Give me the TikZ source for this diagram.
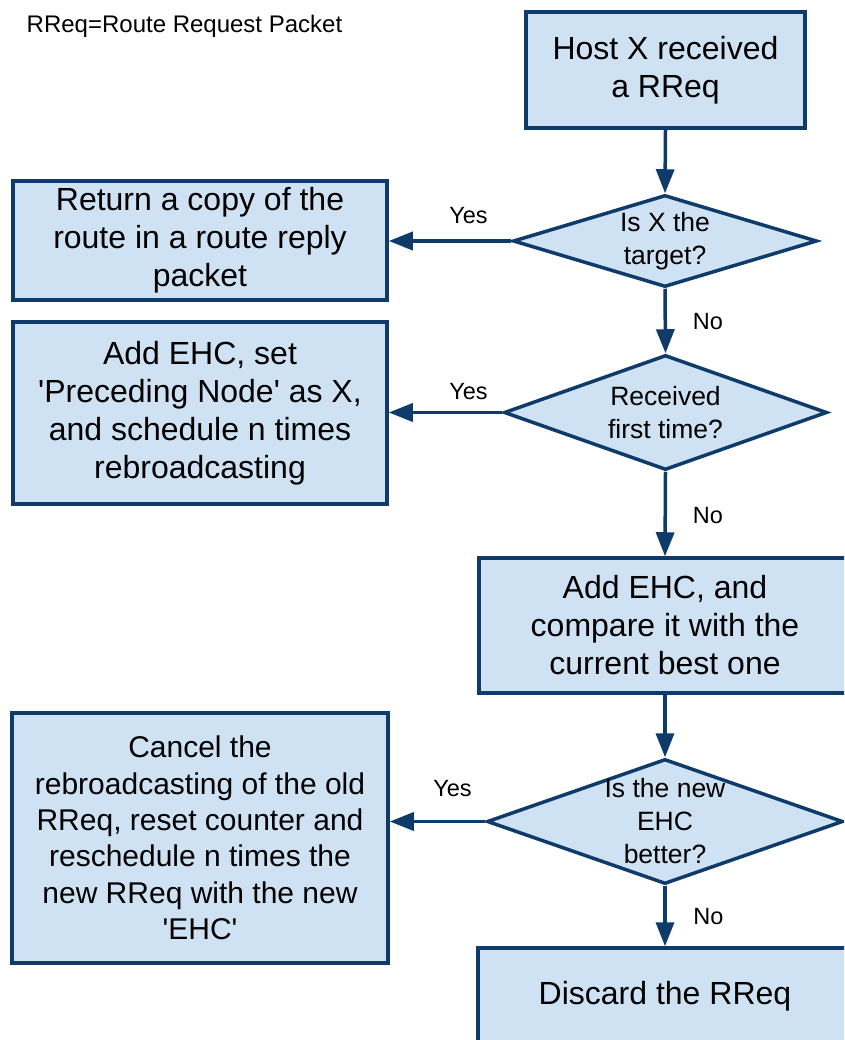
\documentclass[tikz,border=0pt]{standalone}
\usepackage{fontspec}
\setmainfont{Liberation Sans}
\usetikzlibrary{shapes.geometric,arrows.meta}
\definecolor{navy}{RGB}{14,59,105}
\definecolor{boxfill}{RGB}{207,226,243}
\begin{document}
\begin{tikzpicture}[x=1pt,y=-1pt,
  stepbox/.style={rectangle,draw=navy,fill=boxfill,line width=3.5pt,inner sep=0pt,align=center,font=\fontsize{32}{38}\selectfont},
  decision/.style={diamond,draw=navy,fill=boxfill,line width=3.5pt,inner sep=0pt},
  dtext/.style={align=center,inner sep=0pt,font=\fontsize{26.5}{33}\selectfont},
  lbl/.style={inner sep=0pt,font=\fontsize{23.5}{28}\selectfont},
  arr/.style={draw=navy,line width=3.5pt,-{Triangle[length=24pt,width=18pt]}}]
\useasboundingbox (0,0) rectangle (844,1040);
\clip (0,0) rectangle (844,1040);
\fill[white] (0,0) rectangle (844,1040);

\node[lbl,font=\fontsize{24}{28}\selectfont] (legend) at (184.5,26) {RReq=Route Request Packet};

\node[stepbox,minimum width=279pt,minimum height=116pt] (start) at (665.5,70) {Host X received\\a RReq};

\node[decision,minimum width=304pt,minimum height=92pt] (d1) at (665,241) {};
\node[dtext] (d1t) at (d1) {Is X the\\target?};

\node[stepbox,minimum width=374pt,minimum height=119pt] (b1) at (200,240.5) {Return a copy of the\\route in a route reply\\packet};

\node[decision,minimum width=323pt,minimum height=115pt] (d2) at (665.5,412.5) {};
\node[dtext] (d2t) at (d2) {Received\\first time?};

\node[stepbox,minimum width=374pt,minimum height=182pt] (b2) at (200,413) {Add EHC, set\\\textquotesingle Preceding Node\textquotesingle{} as X,\\and schedule n times\\rebroadcasting};

\node[stepbox,minimum width=372pt,minimum height=135pt] (cmp) at (665,625.5) {Add EHC, and\\compare it with the\\current best one};

\node[decision,minimum width=356pt,minimum height=125pt] (d3) at (665,821.5) {};
\node[dtext] (d3t) at (d3) {Is the new\\EHC\\better?};

\node[stepbox,minimum width=376pt,minimum height=250pt,font=\fontsize{30}{36.4}\selectfont] (b3) at (200,838) {Cancel the\\rebroadcasting of the old\\RReq, reset counter and\\reschedule n times the\\new RReq with the new\\\textquotesingle EHC\textquotesingle};

\node[stepbox,minimum width=374pt,minimum height=96pt] (disc) at (665,996) {Discard the RReq};

\draw[arr] (start.south) -- (d1.north);
\draw[arr] (d1.south) -- (d2.north);
\draw[arr] (d2.south) -- (cmp.north);
\draw[arr] (cmp.south) -- (d3.north);
\draw[arr] (d3.south) -- (disc.north);
\draw[arr] (d1.west) -- (d1.west -| b1.east);
\draw[arr] (d2.west) -- (d2.west -| b2.east);
\draw[arr] (d3.west) -- (d3.west -| b3.east);

\node[lbl] (y1) at (468.5,216) {Yes};
\node[lbl] (y2) at (468.5,392) {Yes};
\node[lbl] (y3) at (452.5,789) {Yes};
\node[lbl] (n1) at (708,322) {No};
\node[lbl] (n2) at (708,516) {No};
\node[lbl] (n3) at (708.5,917) {No};
\end{tikzpicture}
\end{document}
